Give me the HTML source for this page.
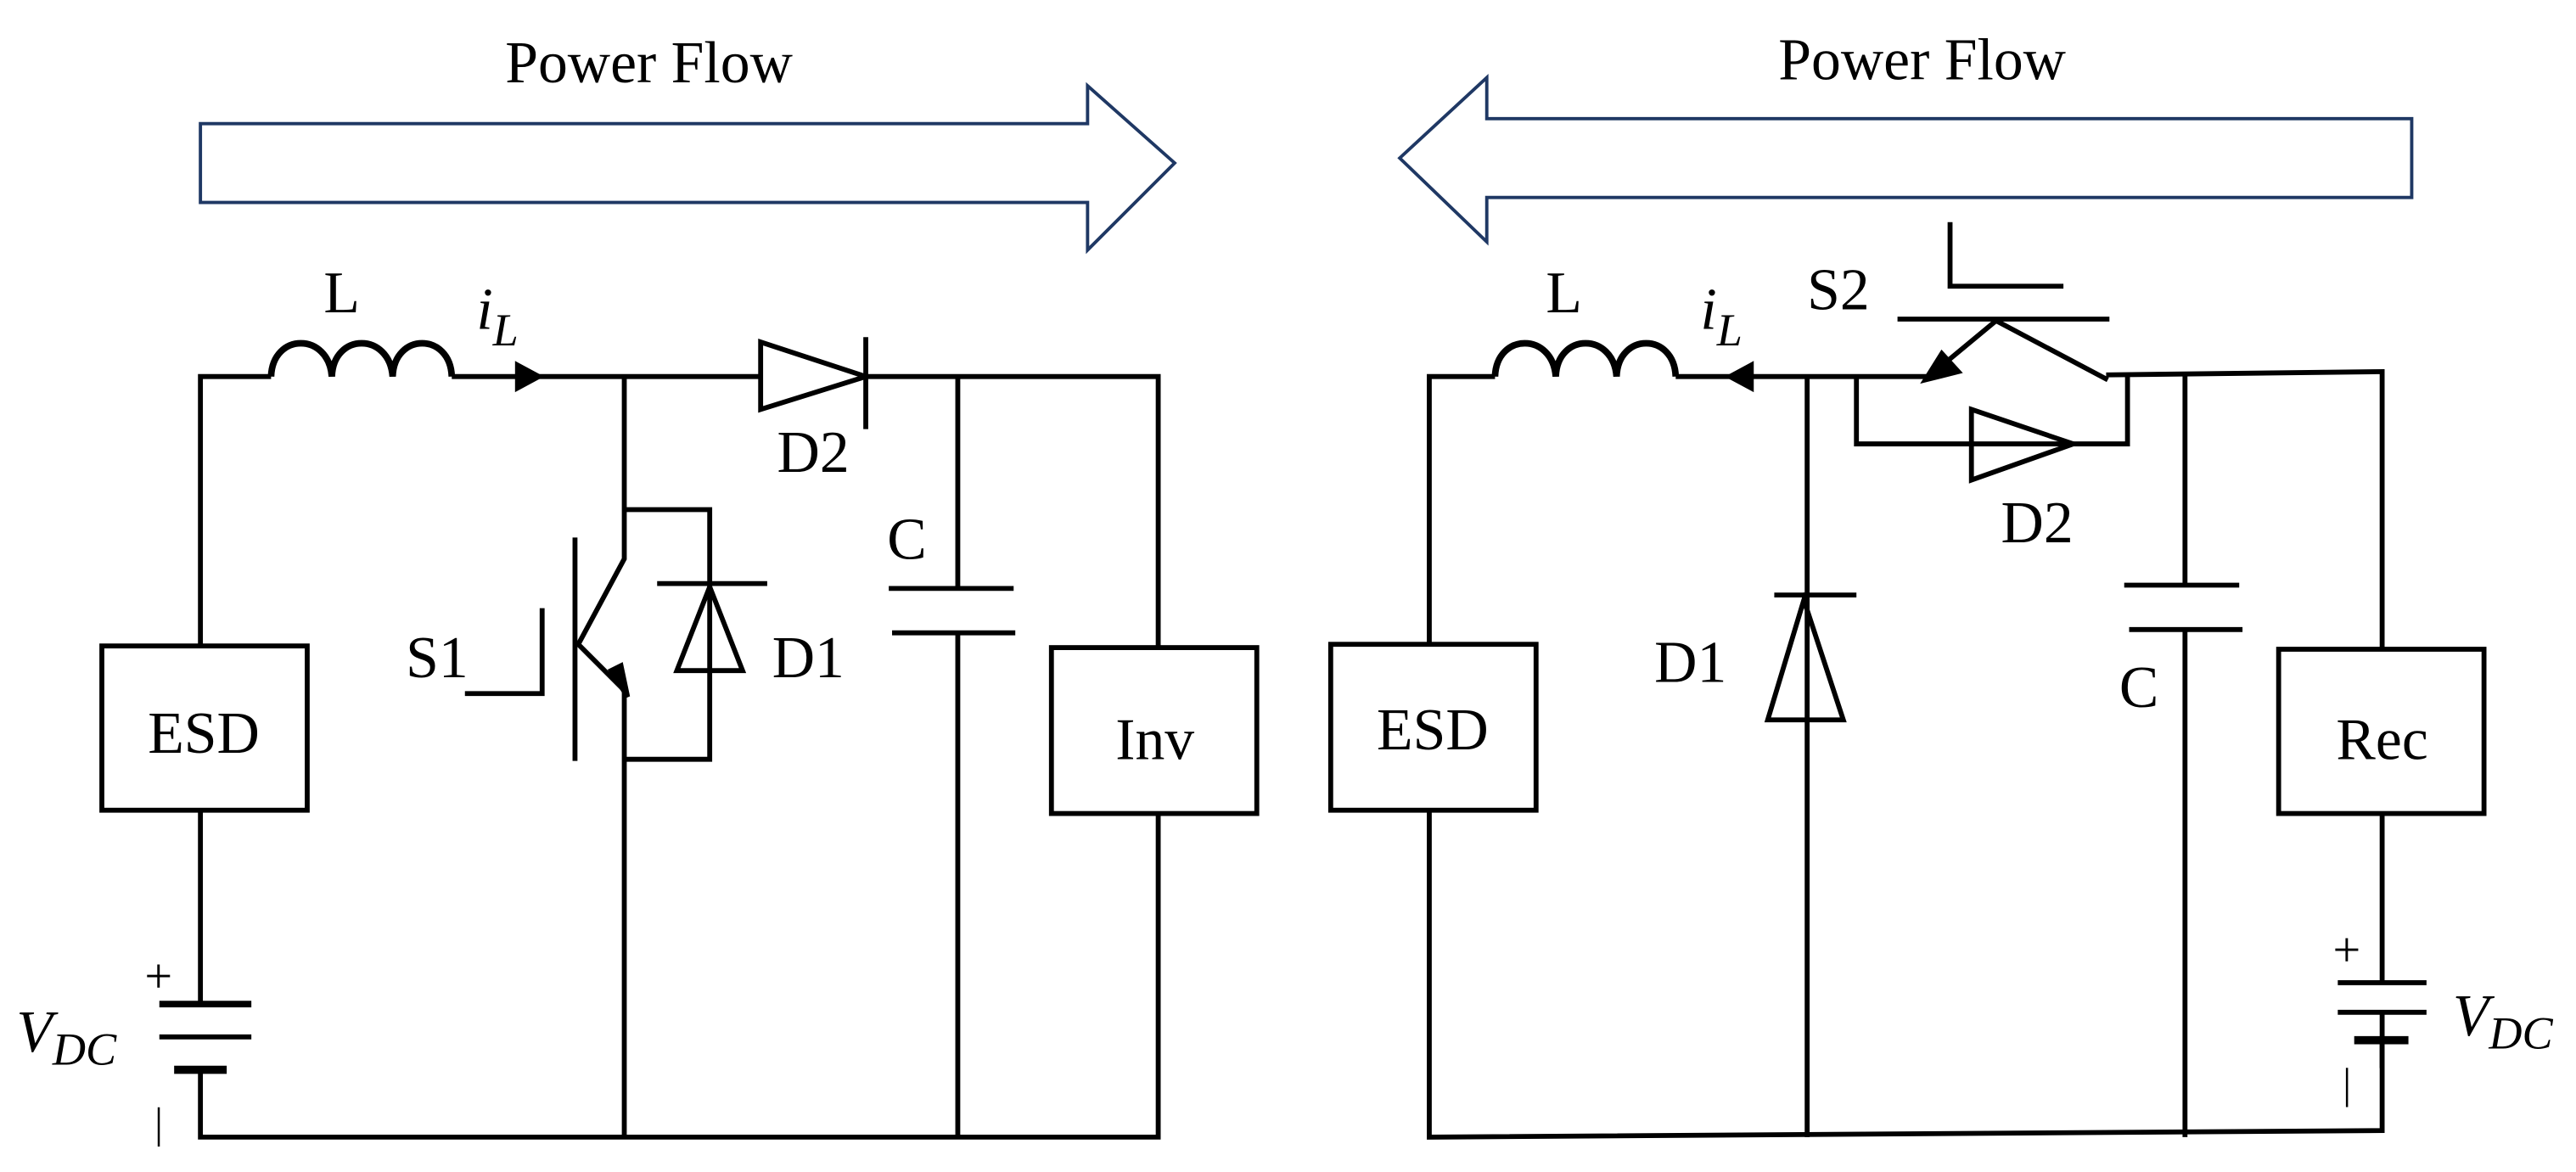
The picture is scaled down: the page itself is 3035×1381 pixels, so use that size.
<!DOCTYPE html>
<html><head><style>html,body{margin:0;padding:0;background:#fff}svg{display:block}</style></head>
<body>
<svg width="3035" height="1381" viewBox="0 0 1568 713" xmlns="http://www.w3.org/2000/svg" font-family="Liberation Serif, serif" fill="none" stroke="#000" stroke-width="3">
<!-- arrows -->
<path d="M122 75 H662 V52 L715 99 L662 152 V123 H122 Z" stroke="#1f3864" stroke-width="2"/>
<path d="M1468 72 H905 V47 L852 96 L905 147 V120 H1468 Z" stroke="#1f3864" stroke-width="2"/>
<g fill="#000" stroke="none" font-size="36">
<text x="395" y="50" text-anchor="middle">Power Flow</text>
<text x="1170" y="48" text-anchor="middle">Power Flow</text>
<text x="124" y="458" text-anchor="middle">ESD</text>
<text x="703" y="462" text-anchor="middle">Inv</text>
<text x="872" y="456" text-anchor="middle">ESD</text>
<text x="1450" y="462" text-anchor="middle">Rec</text>
<text x="208" y="190" text-anchor="middle">L</text>
<text x="952" y="190" text-anchor="middle">L</text>
<text x="290" y="200" font-style="italic">i<tspan font-size="28" dy="10">L</tspan></text>
<text x="1035" y="200" font-style="italic">i<tspan font-size="28" dy="10">L</tspan></text>
<text x="473" y="287">D2</text>
<text x="540" y="340">C</text>
<text x="247" y="412">S1</text>
<text x="470" y="412">D1</text>
<text x="1007" y="415">D1</text>
<text x="1100" y="188">S2</text>
<text x="1218" y="330">D2</text>
<text x="1290" y="430">C</text>
<text x="10" y="640" font-style="italic">V<tspan font-size="28" dy="8">DC</tspan></text>
<text x="1493" y="630" font-style="italic">V<tspan font-size="28" dy="8">DC</tspan></text>
<text x="88" y="604" font-size="30">+</text>
<text x="94" y="692" font-size="26">|</text>
<text x="1420" y="588" font-size="30">+</text>
<text x="1426" y="668" font-size="26">|</text>
</g>
<!-- LEFT CIRCUIT -->
<path d="M122 393 V229 H165"/>
<path d="M165 229 C166 202 200 202 202 229 C203 202 237 202 239 229 C240 202 274 202 275 229" stroke-width="4"/>
<path d="M275 229 H463 M527 229 H705 V394"/>
<path d="M315 222 L328 229 L315 236 Z" fill="#000"/>
<path d="M463 208 L527 229 L463 249 Z"/>
<path d="M527 205 V261"/>
<rect x="62" y="393" width="125" height="100"/>
<path d="M122 493 V611 M97 631 H153"/>
<path d="M97 611 H153" stroke-width="4"/><path d="M106 651 H138" stroke-width="5"/>
<path d="M122 651 V692 H705 V495"/>
<rect x="640" y="394" width="125" height="101"/>
<!-- S1 -->
<path d="M380 229 V340 L352 392 L380 420 V692"/>
<path d="M372 408 L382 424 L378 405 Z" fill="#000"/>
<path d="M350 327 V463"/>
<path d="M330 370 V422 H283"/>
<path d="M380 310 H432 V462 H380"/>
<path d="M400 355 H467"/>
<path d="M432 357 L412 408 H452 Z"/>
<!-- C -->
<path d="M583 229 V358 M541 358 H617 M543 385 H618 M583 385 V692"/>
<!-- RIGHT CIRCUIT -->
<path d="M870 392 V229 H910"/>
<path d="M910 229 C911 202 945 202 947 229 C948 202 982 202 984 229 C985 202 1019 202 1020 229" stroke-width="4"/>
<path d="M1020 229 H1176 M1282 228 L1450 226 V395"/>
<path d="M1066 222 L1053 229 L1066 236 Z" fill="#000"/>
<rect x="810" y="392" width="125" height="101"/>
<path d="M870 493 V692 L1450 688 V615"/>
<path d="M1100 229 V692 M1080 362 H1130 M1098 365 L1076 438 H1122 Z"/>
<!-- S2 -->
<path d="M1187 135 V174 H1256 M1155 194 H1284 M1215 195 L1180 224 M1215 195 L1283 231"/>
<path d="M1172 231 L1192 226 L1182 215 Z" fill="#000"/>
<path d="M1130 229 V270 H1295 V228"/>
<path d="M1200 249 L1262 270 L1200 292 Z"/>
<path d="M1330 228 V356 M1293 356 H1363 M1296 383 H1365 M1330 383 V692"/>
<rect x="1387" y="395" width="125" height="100"/>
<path d="M1450 495 V598 M1423 598 H1477 M1423 616 H1477 M1450 633 V650"/>
<path d="M1433 633 H1466" stroke-width="5"/>
</svg>
</body></html>
